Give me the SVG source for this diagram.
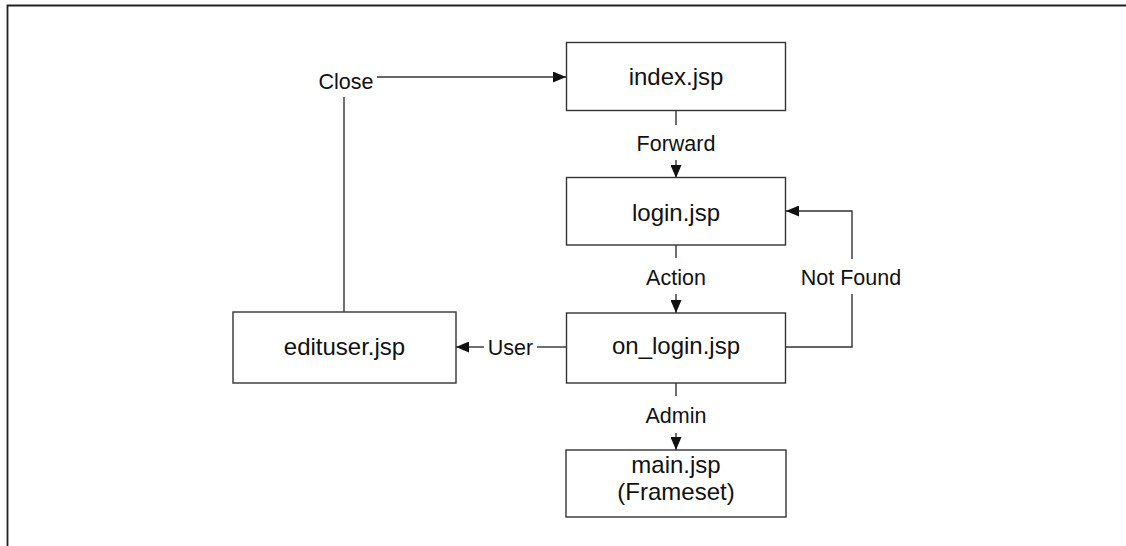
<svg xmlns="http://www.w3.org/2000/svg" width="1126" height="546" viewBox="0 0 1126 546">
<style>
.box{fill:#fff;stroke:#333;stroke-width:1.4}
.ln{fill:none;stroke:#333;stroke-width:1.4}
.nt{font-family:"Liberation Sans",Arial,sans-serif;font-size:24px;fill:#111;text-anchor:middle}
.lb{font-family:"Liberation Sans",Arial,sans-serif;font-size:21.5px;fill:#111;text-anchor:middle}
.frame{fill:none;stroke:#222;stroke-width:1.8}
</style>
<defs>
<marker id="ah" viewBox="0 0 13 11" refX="13" refY="5.5" markerWidth="13" markerHeight="11" markerUnits="userSpaceOnUse" orient="auto">
<path d="M0,0 L13,5.5 L0,11 Z" fill="#111"/>
</marker>
</defs>
<rect width="1126" height="546" fill="#fff"/>
<path class="frame" d="M7.5,546 V5.5 H1126"/>
<g id="connectors">
<path class="ln" d="M377,77 H566" marker-end="url(#ah)"/>
<path class="ln" d="M344,97 V312"/>
<text class="lb" x="346" y="89">Close</text>
<path class="ln" d="M676,110 V125"/>
<path class="ln" d="M676,160 V178" marker-end="url(#ah)"/>
<text class="lb" x="676" y="151">Forward</text>
<path class="ln" d="M676,245 V258"/>
<path class="ln" d="M676,294 V313" marker-end="url(#ah)"/>
<text class="lb" x="676" y="285">Action</text>
<path class="ln" d="M785,347 H852 V294"/>
<path class="ln" d="M852,259 V211 H786" marker-end="url(#ah)"/>
<text class="lb" x="851" y="285">Not Found</text>
<path class="ln" d="M566,347 H537"/>
<path class="ln" d="M484,347 H456" marker-end="url(#ah)"/>
<text class="lb" x="510.5" y="355">User</text>
<path class="ln" d="M676,383 V396"/>
<path class="ln" d="M676,433 V450" marker-end="url(#ah)"/>
<text class="lb" x="676" y="423">Admin</text>
</g>
<g id="index">
<rect class="box" x="566.5" y="42.5" width="219" height="68"/>
<text class="nt" x="676" y="85">index.jsp</text>
</g>
<g id="login">
<rect class="box" x="566.5" y="177.5" width="219" height="67.5"/>
<text class="nt" x="676" y="221">login.jsp</text>
</g>
<g id="on_login">
<rect class="box" x="566.5" y="313" width="219" height="70"/>
<text class="nt" x="676" y="354">on_login.jsp</text>
</g>
<g id="edituser">
<rect class="box" x="233" y="312" width="223" height="71"/>
<text class="nt" x="344.5" y="355">edituser.jsp</text>
</g>
<g id="main">
<rect class="box" x="566" y="450" width="220" height="67"/>
<text class="nt" x="676" y="473">main.jsp</text>
<text class="nt" x="676" y="500">(Frameset)</text>
</g>
</svg>
